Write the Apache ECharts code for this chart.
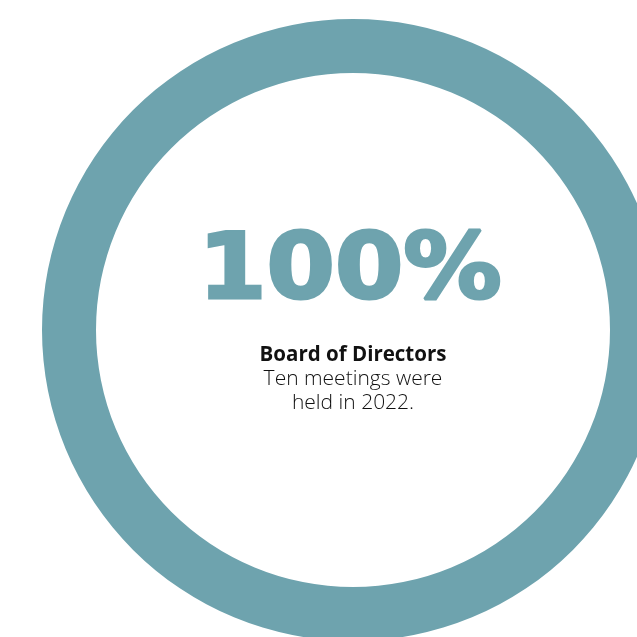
<!DOCTYPE html>
<html>
<head>
<meta charset="utf-8">
<script src="https://cdn.jsdelivr.net/npm/echarts@6/dist/echarts.min.js"></script>
<style>html,body{margin:0;padding:0;background:#fff;}#c{width:637px;height:637px;}</style>
</head>
<body>
<div id="c"></div>
<script>
const categories = ['Attendance'];
const values = [100];
const bigLabel = '100%';
const heading = 'Board of Directors';
const lines = ['Ten meetings were', 'held in 2022.'];

const chart = echarts.init(document.getElementById('c'), null, {renderer: 'canvas'});
chart.setOption({
  animation: false,
  backgroundColor: '#ffffff',
  series: [{
    type: 'pie',
    center: [353, 330],
    radius: [257, 311],
    silent: true,
    label: {show: false},
    labelLine: {show: false},
    itemStyle: {color: '#6ea3ae'},
    data: categories.map((c, i) => ({name: c, value: values[i]}))
  }],
  graphic: [
    {type: 'text', x: 350, y: 274, scaleX: 1.08,
     style: {text: bigLabel, font: 'bold 91px "DejaVu Sans"', fill: '#6ea3ae', stroke: '#6ea3ae', lineWidth: 3, align: 'center', verticalAlign: 'middle'}},
    {type: 'text', x: 353, y: 355,
     style: {text: heading, font: 'bold 20.5px "Open Sans"', fill: '#111111', align: 'center', verticalAlign: 'middle'}},
    {type: 'text', x: 353, y: 379,
     style: {text: lines[0], font: '300 21px "Open Sans"', fill: '#111111', align: 'center', verticalAlign: 'middle'}},
    {type: 'text', x: 353, y: 403,
     style: {text: lines[1], font: '300 21px "Open Sans"', fill: '#111111', align: 'center', verticalAlign: 'middle'}}
  ]
});
</script>
</body>
</html>
